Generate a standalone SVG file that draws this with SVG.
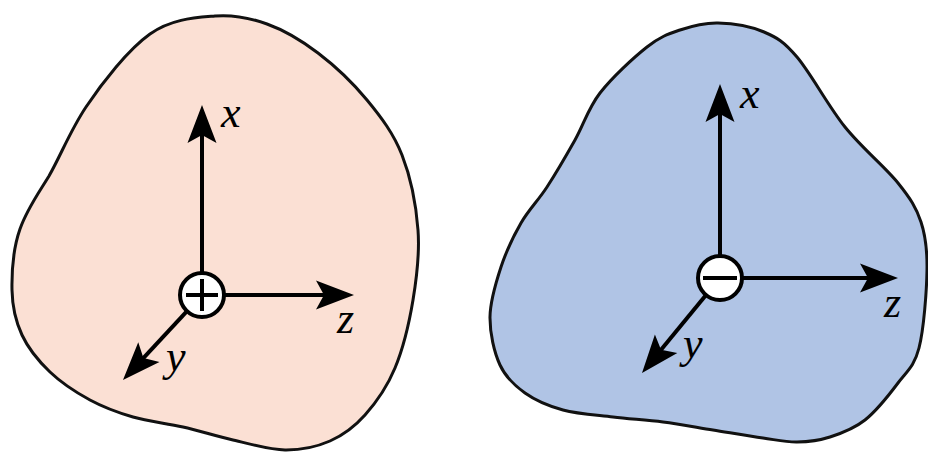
<svg xmlns="http://www.w3.org/2000/svg" width="928" height="453" viewBox="0 0 928 453">
<style>
.blob{stroke:#111;stroke-width:3;stroke-linejoin:round}
.pos{fill:#FBE0D4}
.neg{fill:#B0C4E5}
.axis{fill:none;stroke:#000;stroke-width:4}
.dot{fill:#fff;stroke:#000;stroke-width:4}
.sign{stroke:#000;stroke-width:4;fill:none}
.lbl{font-family:"Liberation Serif","Times New Roman",serif;font-style:italic;font-size:44px;fill:#000}
</style>
<defs>
<marker id="arr" viewBox="-40 -16 42 32" refX="-20" refY="0" markerWidth="42" markerHeight="32" markerUnits="userSpaceOnUse" orient="auto">
<path d="M0,0 L-38,-14.5 L-30,0 L-38,14.5 Z" fill="#000"/>
</marker>
</defs>
<g id="body-positive">
<path class="blob pos" d="M215,16 C234.5,14.33 249.83,17.83 267,24 C284.17,30.17 301.33,40.33 318,53 C334.67,65.67 353,83 367,100 C381,117 393.5,133.33 402,155 C410.5,176.67 416.17,205.830 418,230 C419.83,254.17 416.83,277 413,300 C409.17,323 403,348.83 395,368 C387,387.17 375.83,402.83 365,415 C354.17,427.17 343.33,435.17 330,441 C316.67,446.83 301.17,450.17 285,450 C268.83,449.83 250,443.83 233,440 C216,436.17 199.67,430.83 183,427 C166.33,423.17 148.5,421.5 133,417 C117.5,412.5 103.83,407.5 90,400 C76.17,392.5 61.33,382.83 50,372 C38.67,361.17 28.33,348.67 22,335 C15.67,321.33 12.33,308 12,290 C11.67,272 13.67,247 20,229 C27,209 38,194 49,176 C61,155 70,131 86,107 C102,83 128.33,49.33 150,34 C171.67,18.67 195.5,17.67 215,16 Z"/>
</g>
<g id="body-negative">
<path class="blob neg" d="M718,23 C732,23.33 750.83,26.33 764,32 C777.17,37.67 783.5,41.17 797,57 C810.5,72.83 828.17,106 845,127 C861.83,148 885.33,167.17 898,183 C910.67,198.83 916.17,207.5 921,222 C925.83,236.5 927.33,249 927,270 C926.67,291 923.83,329.17 919,348 C914.17,366.83 907,371 898,383 C889,395 876.33,411 865,420 C853.67,429 841.33,433.33 830,437 C818.67,440.67 808.17,441.83 797,442 C785.83,442.17 777,440 763,438 C749,436 729.67,432.67 713,430 C696.33,427.33 679.67,424.17 663,422 C646.33,419.83 629.67,419 613,417 C596.33,415 577.67,414 563,410 C548.33,406 535.5,400.5 525,393 C514.5,385.5 505.83,377.67 500,365 C494.17,352.33 489.83,333.33 490,317 C490.17,300.67 495.83,282.67 501,267 C506.17,251.33 513.33,236.33 521,223 C528.67,209.67 538,200.83 547,187 C556,173.17 566.17,155.67 575,140 C583.83,124.33 588,108.5 600,93 C612,77.5 633.67,57.5 647,47 C660.33,36.5 668.17,34 680,30 C691.83,26 704,22.67 718,23 Z"/>
</g>
<g id="connectors">
<path class="axis" d="M202,272 V125" marker-end="url(#arr)"/>
<path class="axis" d="M225,295 H334" marker-end="url(#arr)"/>
<path class="axis" d="M186.3,311.9 L136.6,365.3" marker-end="url(#arr)"/>
<path class="axis" d="M720,255 V104" marker-end="url(#arr)"/>
<path class="axis" d="M743,278 H878" marker-end="url(#arr)"/>
<path class="axis" d="M705.4,295.8 L654.7,357.6" marker-end="url(#arr)"/>
</g>
<g id="origin-positive">
<circle class="dot" cx="202" cy="295" r="22"/>
<path class="sign" d="M186,295 H218 M202,279 V311"/>
</g>
<g id="origin-negative">
<circle class="dot" cx="720" cy="278" r="22"/>
<path class="sign" d="M703,278 H737"/>
</g>
<g id="labels">
<text class="lbl" x="221" y="127">x</text>
<text class="lbl" x="337" y="333">z</text>
<text class="lbl" x="166" y="371">y</text>
<text class="lbl" x="740" y="108">x</text>
<text class="lbl" x="884" y="317">z</text>
<text class="lbl" x="683" y="358">y</text>
</g>
</svg>
